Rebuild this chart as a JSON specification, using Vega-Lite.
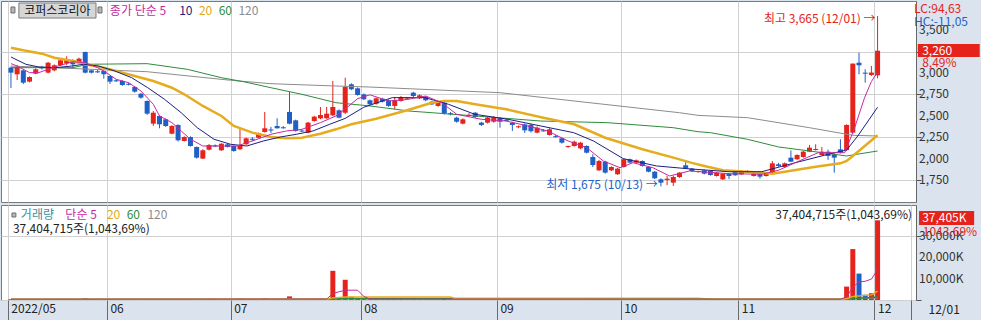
{
"$schema": "https://vega.github.io/schema/vega-lite/v6.json",
"background": "#dbe4ee",
"padding": 0,
"spacing": 1,
"config": {
 "view": {"stroke": "#7a7a7a", "fill": "#ffffff"},
 "font": "Noto Sans CJK KR",
 "axis": {"labelFont": "Noto Sans CJK KR", "titleFont": "Noto Sans CJK KR", "labelFontSize": 12, "labelColor": "#333333", "gridColor": "#d0d0d0", "tickColor": "#555555", "domainColor": "#666666"},
 "text": {"font": "Noto Sans CJK KR", "fontSize": 12}
},
"resolve": {"scale": {"x": "independent", "y": "independent"}},
"datasets": {
 "ohlc": [
{"i":0,"o":3062,"h":3075,"l":2825,"c":3004,"v":350,"u":0},
{"i":1,"o":2985,"h":3093,"l":2918,"c":3070,"v":420,"u":1},
{"i":2,"o":3031,"h":3040,"l":2872,"c":2887,"v":380,"u":0},
{"i":3,"o":2899,"h":2960,"l":2890,"c":2953,"v":250,"u":1},
{"i":4,"o":2992,"h":3055,"l":2985,"c":3043,"v":300,"u":1},
{"i":5,"o":3066,"h":3082,"l":3040,"c":3054,"v":200,"u":1},
{"i":6,"o":3004,"h":3130,"l":2995,"c":3120,"v":450,"u":1},
{"i":7,"o":3031,"h":3100,"l":3020,"c":3090,"v":260,"u":0},
{"i":8,"o":3090,"h":3160,"l":3080,"c":3148,"v":380,"u":1},
{"i":9,"o":3113,"h":3195,"l":3090,"c":3160,"v":420,"u":1},
{"i":10,"o":3148,"h":3160,"l":3060,"c":3101,"v":300,"u":0},
{"i":11,"o":3113,"h":3180,"l":3105,"c":3167,"v":350,"u":1},
{"i":12,"o":3245,"h":3250,"l":2995,"c":3004,"v":900,"u":0},
{"i":13,"o":3031,"h":3040,"l":2995,"c":3004,"v":400,"u":0},
{"i":14,"o":3020,"h":3035,"l":3000,"c":3008,"v":220,"u":1},
{"i":15,"o":3023,"h":3030,"l":2934,"c":2985,"v":300,"u":0},
{"i":16,"o":2965,"h":2970,"l":2872,"c":2899,"v":320,"u":0},
{"i":17,"o":2915,"h":2925,"l":2895,"c":2903,"v":180,"u":1},
{"i":18,"o":2907,"h":2915,"l":2850,"c":2860,"v":220,"u":0},
{"i":19,"o":2875,"h":2885,"l":2855,"c":2863,"v":160,"u":1},
{"i":20,"o":2837,"h":2845,"l":2770,"c":2782,"v":260,"u":0},
{"i":21,"o":2758,"h":2765,"l":2700,"c":2712,"v":240,"u":0},
{"i":22,"o":2673,"h":2680,"l":2510,"c":2525,"v":520,"u":0},
{"i":23,"o":2408,"h":2556,"l":2381,"c":2536,"v":480,"u":1},
{"i":24,"o":2498,"h":2505,"l":2354,"c":2401,"v":300,"u":0},
{"i":25,"o":2459,"h":2470,"l":2370,"c":2381,"v":260,"u":0},
{"i":26,"o":2291,"h":2390,"l":2285,"c":2381,"v":280,"u":0},
{"i":27,"o":2393,"h":2400,"l":2200,"c":2214,"v":420,"u":0},
{"i":28,"o":2206,"h":2260,"l":2200,"c":2252,"v":260,"u":1},
{"i":29,"o":2252,"h":2260,"l":2140,"c":2147,"v":300,"u":0},
{"i":30,"o":2136,"h":2140,"l":2000,"c":2011,"v":450,"u":0},
{"i":31,"o":2000,"h":2110,"l":1995,"c":2097,"v":380,"u":1},
{"i":32,"o":2104,"h":2170,"l":2095,"c":2159,"v":280,"u":1},
{"i":33,"o":2155,"h":2165,"l":2135,"c":2143,"v":150,"u":0},
{"i":34,"o":2097,"h":2180,"l":2090,"c":2174,"v":260,"u":1},
{"i":35,"o":2167,"h":2175,"l":2130,"c":2136,"v":180,"u":0},
{"i":36,"o":2147,"h":2155,"l":2080,"c":2089,"v":220,"u":0},
{"i":37,"o":2109,"h":2354,"l":2100,"c":2147,"v":700,"u":1},
{"i":38,"o":2167,"h":2245,"l":2160,"c":2237,"v":380,"u":1},
{"i":39,"o":2232,"h":2250,"l":2205,"c":2220,"v":200,"u":0},
{"i":40,"o":2244,"h":2305,"l":2240,"c":2296,"v":300,"u":1},
{"i":41,"o":2311,"h":2545,"l":2305,"c":2354,"v":900,"u":1},
{"i":42,"o":2340,"h":2370,"l":2300,"c":2328,"v":260,"u":0},
{"i":43,"o":2381,"h":2471,"l":2350,"c":2354,"v":350,"u":1},
{"i":44,"o":2366,"h":2380,"l":2350,"c":2354,"v":200,"u":1},
{"i":45,"o":2545,"h":2778,"l":2400,"c":2408,"v":1700,"u":1},
{"i":46,"o":2447,"h":2455,"l":2315,"c":2323,"v":500,"u":0},
{"i":47,"o":2328,"h":2340,"l":2310,"c":2316,"v":200,"u":0},
{"i":48,"o":2303,"h":2430,"l":2295,"c":2420,"v":420,"u":1},
{"i":49,"o":2439,"h":2500,"l":2430,"c":2490,"v":380,"u":1},
{"i":50,"o":2470,"h":2603,"l":2460,"c":2509,"v":650,"u":1},
{"i":51,"o":2471,"h":2603,"l":2465,"c":2525,"v":500,"u":1},
{"i":52,"o":2506,"h":2907,"l":2495,"c":2603,"v":13700,"u":1},
{"i":53,"o":2564,"h":2575,"l":2470,"c":2478,"v":900,"u":0},
{"i":54,"o":2536,"h":2945,"l":2520,"c":2837,"v":9500,"u":1},
{"i":55,"o":2868,"h":2880,"l":2800,"c":2810,"v":1500,"u":0},
{"i":56,"o":2821,"h":2830,"l":2735,"c":2743,"v":600,"u":0},
{"i":57,"o":2751,"h":2760,"l":2685,"c":2693,"v":450,"u":0},
{"i":58,"o":2681,"h":2690,"l":2625,"c":2634,"v":350,"u":0},
{"i":59,"o":2641,"h":2715,"l":2630,"c":2704,"v":300,"u":1},
{"i":60,"o":2700,"h":2710,"l":2655,"c":2665,"v":250,"u":0},
{"i":61,"o":2681,"h":2690,"l":2605,"c":2615,"v":300,"u":0},
{"i":62,"o":2615,"h":2720,"l":2576,"c":2681,"v":320,"u":1},
{"i":63,"o":2673,"h":2730,"l":2665,"c":2720,"v":280,"u":1},
{"i":64,"o":2700,"h":2720,"l":2690,"c":2712,"v":180,"u":0},
{"i":65,"o":2770,"h":2780,"l":2720,"c":2731,"v":260,"u":1},
{"i":66,"o":2704,"h":2750,"l":2695,"c":2739,"v":220,"u":1},
{"i":67,"o":2720,"h":2730,"l":2670,"c":2681,"v":200,"u":0},
{"i":68,"o":2665,"h":2675,"l":2625,"c":2634,"v":220,"u":0},
{"i":69,"o":2615,"h":2665,"l":2605,"c":2653,"v":200,"u":1},
{"i":70,"o":2653,"h":2665,"l":2515,"c":2525,"v":400,"u":0},
{"i":71,"o":2530,"h":2545,"l":2505,"c":2518,"v":180,"u":0},
{"i":72,"o":2478,"h":2490,"l":2420,"c":2431,"v":250,"u":0},
{"i":73,"o":2408,"h":2470,"l":2400,"c":2459,"v":220,"u":1},
{"i":74,"o":2500,"h":2530,"l":2490,"c":2512,"v":160,"u":1},
{"i":75,"o":2536,"h":2545,"l":2475,"c":2486,"v":200,"u":0},
{"i":76,"o":2420,"h":2430,"l":2380,"c":2393,"v":260,"u":0},
{"i":77,"o":2420,"h":2490,"l":2410,"c":2478,"v":220,"u":1},
{"i":78,"o":2431,"h":2495,"l":2420,"c":2486,"v":200,"u":1},
{"i":79,"o":2471,"h":2486,"l":2361,"c":2431,"v":230,"u":0},
{"i":80,"o":2452,"h":2465,"l":2435,"c":2440,"v":150,"u":1},
{"i":81,"o":2420,"h":2430,"l":2323,"c":2393,"v":200,"u":0},
{"i":82,"o":2366,"h":2385,"l":2355,"c":2378,"v":140,"u":0},
{"i":83,"o":2400,"h":2410,"l":2300,"c":2330,"v":250,"u":0},
{"i":84,"o":2395,"h":2405,"l":2305,"c":2320,"v":220,"u":0},
{"i":85,"o":2303,"h":2375,"l":2295,"c":2361,"v":200,"u":1},
{"i":86,"o":2330,"h":2345,"l":2315,"c":2318,"v":140,"u":0},
{"i":87,"o":2276,"h":2355,"l":2270,"c":2342,"v":200,"u":1},
{"i":88,"o":2262,"h":2275,"l":2245,"c":2250,"v":150,"u":0},
{"i":89,"o":2237,"h":2245,"l":2175,"c":2186,"v":220,"u":0},
{"i":90,"o":2136,"h":2150,"l":2125,"c":2148,"v":150,"u":0},
{"i":91,"o":2147,"h":2210,"l":2140,"c":2198,"v":200,"u":1},
{"i":92,"o":2120,"h":2195,"l":2110,"c":2186,"v":180,"u":0},
{"i":93,"o":2147,"h":2155,"l":2060,"c":2069,"v":240,"u":0},
{"i":94,"o":2019,"h":2050,"l":1902,"c":1925,"v":420,"u":0},
{"i":95,"o":1863,"h":1985,"l":1855,"c":1972,"v":380,"u":1},
{"i":96,"o":1964,"h":1975,"l":1825,"c":1836,"v":300,"u":0},
{"i":97,"o":1863,"h":1910,"l":1855,"c":1902,"v":220,"u":1},
{"i":98,"o":1817,"h":1890,"l":1810,"c":1883,"v":250,"u":0},
{"i":99,"o":1902,"h":2000,"l":1895,"c":1992,"v":350,"u":1},
{"i":100,"o":1992,"h":2000,"l":1945,"c":1953,"v":220,"u":0},
{"i":101,"o":1953,"h":1990,"l":1945,"c":1980,"v":180,"u":1},
{"i":102,"o":1972,"h":1980,"l":1905,"c":1914,"v":200,"u":0},
{"i":103,"o":1902,"h":1910,"l":1840,"c":1847,"v":250,"u":0},
{"i":104,"o":1847,"h":1855,"l":1760,"c":1770,"v":300,"u":0},
{"i":105,"o":1758,"h":1770,"l":1675,"c":1719,"v":380,"u":0},
{"i":106,"o":1750,"h":1797,"l":1690,"c":1765,"v":250,"u":1},
{"i":107,"o":1719,"h":1800,"l":1680,"c":1785,"v":280,"u":1},
{"i":108,"o":1785,"h":1840,"l":1775,"c":1836,"v":300,"u":1},
{"i":109,"o":1922,"h":1972,"l":1880,"c":1887,"v":420,"u":1},
{"i":110,"o":1883,"h":1890,"l":1845,"c":1855,"v":200,"u":0},
{"i":111,"o":1843,"h":1858,"l":1835,"c":1855,"v":150,"u":0},
{"i":112,"o":1863,"h":1870,"l":1815,"c":1824,"v":180,"u":0},
{"i":113,"o":1855,"h":1860,"l":1800,"c":1808,"v":200,"u":0},
{"i":114,"o":1797,"h":1845,"l":1790,"c":1836,"v":180,"u":1},
{"i":115,"o":1758,"h":1830,"l":1750,"c":1824,"v":220,"u":0},
{"i":116,"o":1824,"h":1830,"l":1760,"c":1797,"v":200,"u":0},
{"i":117,"o":1843,"h":1850,"l":1800,"c":1805,"v":180,"u":1},
{"i":118,"o":1816,"h":1860,"l":1810,"c":1855,"v":200,"u":1},
{"i":119,"o":1850,"h":1865,"l":1835,"c":1838,"v":150,"u":0},
{"i":120,"o":1797,"h":1830,"l":1790,"c":1824,"v":170,"u":0},
{"i":121,"o":1824,"h":1830,"l":1765,"c":1789,"v":200,"u":0},
{"i":122,"o":1797,"h":1830,"l":1790,"c":1824,"v":180,"u":1},
{"i":123,"o":1836,"h":1972,"l":1830,"c":1945,"v":500,"u":1},
{"i":124,"o":1933,"h":1950,"l":1905,"c":1914,"v":260,"u":0},
{"i":125,"o":1902,"h":1955,"l":1895,"c":1945,"v":300,"u":1},
{"i":126,"o":2011,"h":2095,"l":1960,"c":1964,"v":600,"u":1},
{"i":127,"o":1992,"h":2050,"l":1985,"c":2042,"v":400,"u":1},
{"i":128,"o":2019,"h":2090,"l":2010,"c":2081,"v":380,"u":1},
{"i":129,"o":2081,"h":2160,"l":2075,"c":2128,"v":450,"u":1},
{"i":130,"o":2100,"h":2167,"l":2095,"c":2112,"v":300,"u":0},
{"i":131,"o":2042,"h":2136,"l":2035,"c":2081,"v":260,"u":0},
{"i":132,"o":2081,"h":2105,"l":1985,"c":2031,"v":280,"u":0},
{"i":133,"o":2050,"h":2060,"l":1836,"c":2011,"v":350,"u":0},
{"i":134,"o":2108,"h":2226,"l":2060,"c":2069,"v":500,"u":1},
{"i":135,"o":2100,"h":2400,"l":2090,"c":2393,"v":6300,"u":1},
{"i":136,"o":2303,"h":3110,"l":2290,"c":3110,"v":23900,"u":1},
{"i":137,"o":3120,"h":3237,"l":2985,"c":3090,"v":12400,"u":0},
{"i":138,"o":3004,"h":3043,"l":2887,"c":2992,"v":2500,"u":0},
{"i":139,"o":2977,"h":3082,"l":2965,"c":3005,"v":3200,"u":1},
{"i":140,"o":2973,"h":3665,"l":2938,"c":3260,"v":37405,"u":1}
 ],
 "ma5": [{"i":0,"p":3109},{"i":1,"p":3082},{"i":3,"p":3004},{"i":4.5,"p":3004},{"i":7,"p":3070},{"i":10,"p":3132},{"i":12,"p":3120},{"i":14,"p":3062},{"i":15,"p":3023},{"i":17,"p":2926},{"i":19,"p":2887},{"i":21,"p":2790},{"i":23,"p":2634},{"i":24,"p":2498},{"i":26,"p":2420},{"i":27.5,"p":2323},{"i":29,"p":2226},{"i":31,"p":2147},{"i":34,"p":2147},{"i":36.5,"p":2147},{"i":39,"p":2206},{"i":42,"p":2284},{"i":44.5,"p":2323},{"i":47,"p":2342},{"i":50,"p":2420},{"i":52.5,"p":2498},{"i":54,"p":2580},{"i":56,"p":2700},{"i":58,"p":2745},{"i":61,"p":2673},{"i":64,"p":2690},{"i":67,"p":2731},{"i":69.6,"p":2653},{"i":72,"p":2518},{"i":76,"p":2459},{"i":80,"p":2439},{"i":83.5,"p":2381},{"i":86.7,"p":2323},{"i":90,"p":2206},{"i":93,"p":2128},{"i":95.7,"p":1972},{"i":98.4,"p":1894},{"i":100.5,"p":1952},{"i":103.7,"p":1894},{"i":106.4,"p":1797},{"i":109.6,"p":1855},{"i":116,"p":1824},{"i":121.3,"p":1817},{"i":124,"p":1864},{"i":126.7,"p":1952},{"i":130.4,"p":2069},{"i":134.7,"p":2069},{"i":136.3,"p":2361},{"i":137.9,"p":2712},{"i":139,"p":2900},{"i":140,"p":3010}],
 "ma10": [{"i":0,"p":3187},{"i":2.4,"p":3102},{"i":4.5,"p":3070},{"i":7.2,"p":3062},{"i":9.9,"p":3082},{"i":11.7,"p":3102},{"i":14.1,"p":3082},{"i":16.8,"p":3023},{"i":19.5,"p":2945},{"i":22.1,"p":2828},{"i":24.8,"p":2693},{"i":27.5,"p":2536},{"i":30.1,"p":2361},{"i":32.8,"p":2226},{"i":35.5,"p":2167},{"i":38.1,"p":2147},{"i":40.8,"p":2206},{"i":43.5,"p":2252},{"i":46.1,"p":2284},{"i":48.8,"p":2323},{"i":51.5,"p":2401},{"i":54,"p":2470},{"i":57,"p":2600},{"i":61.6,"p":2712},{"i":66.9,"p":2712},{"i":70.7,"p":2634},{"i":74.9,"p":2518},{"i":80.3,"p":2459},{"i":85.6,"p":2381},{"i":90.9,"p":2303},{"i":94.1,"p":2206},{"i":98.9,"p":2000},{"i":104.3,"p":1914},{"i":109.6,"p":1880},{"i":116,"p":1847},{"i":121.3,"p":1847},{"i":126.7,"p":1952},{"i":132,"p":2050},{"i":135,"p":2100},{"i":136.8,"p":2264},{"i":140,"p":2600}],
 "ma20": [{"i":0,"p":3296},{"i":2,"p":3265},{"i":5,"p":3226},{"i":7,"p":3179},{"i":10,"p":3140},{"i":12,"p":3102},{"i":15,"p":3062},{"i":18,"p":3004},{"i":20,"p":2965},{"i":23,"p":2907},{"i":26,"p":2828},{"i":28,"p":2751},{"i":31,"p":2615},{"i":34,"p":2498},{"i":36,"p":2381},{"i":39,"p":2303},{"i":42,"p":2252},{"i":44.5,"p":2237},{"i":47,"p":2244},{"i":50,"p":2291},{"i":52.5,"p":2342},{"i":55,"p":2401},{"i":59,"p":2465},{"i":64,"p":2564},{"i":68,"p":2653},{"i":70,"p":2673},{"i":72,"p":2673},{"i":75,"p":2634},{"i":80,"p":2576},{"i":86,"p":2478},{"i":91,"p":2401},{"i":96,"p":2244},{"i":102,"p":2109},{"i":107,"p":2011},{"i":110,"p":1950},{"i":112,"p":1914},{"i":115,"p":1864},{"i":119,"p":1847},{"i":123,"p":1824},{"i":127,"p":1870},{"i":130,"p":1905},{"i":134,"p":1945},{"i":135,"p":1972},{"i":136,"p":2031},{"i":140,"p":2272}],
 "ma60": [{"i":0,"p":3062},{"i":10,"p":3062},{"i":12.5,"p":3102},{"i":22,"p":3109},{"i":28.5,"p":3043},{"i":34,"p":2945},{"i":37.6,"p":2898},{"i":42,"p":2828},{"i":47,"p":2751},{"i":52.5,"p":2653},{"i":58,"p":2615},{"i":64.3,"p":2556},{"i":75,"p":2498},{"i":85.6,"p":2439},{"i":96.3,"p":2420},{"i":107,"p":2361},{"i":111,"p":2314},{"i":113,"p":2303},{"i":119,"p":2225},{"i":124,"p":2136},{"i":129,"p":2089},{"i":135,"p":2031},{"i":140,"p":2089}],
 "ma120": [{"i":0,"p":3080},{"i":4.5,"p":3070},{"i":22,"p":3015},{"i":35.5,"p":2915},{"i":42,"p":2875},{"i":52.5,"p":2848},{"i":58,"p":2836},{"i":79,"p":2770},{"i":91,"p":2673},{"i":108,"p":2536},{"i":111,"p":2505},{"i":119,"p":2478},{"i":129,"p":2361},{"i":136,"p":2272},{"i":140,"p":2264}],
 "vma5": [{"i":0,"v":350},{"i":51,"v":400},{"i":52,"v":3100},{"i":54,"v":4600},{"i":56,"v":4600},{"i":57,"v":1700},{"i":58,"v":400},{"i":134,"v":350},{"i":135,"v":1500},{"i":136,"v":6000},{"i":137,"v":8500},{"i":138,"v":8800},{"i":139,"v":9800},{"i":140,"v":14200}],
 "vma20": [{"i":0,"v":330},{"i":51,"v":330},{"i":52,"v":1000},{"i":54,"v":1400},{"i":71,"v":1400},{"i":72,"v":500},{"i":134,"v":300},{"i":135,"v":600},{"i":136,"v":1700},{"i":139,"v":2400},{"i":140,"v":4200}],
 "vma60": [{"i":0,"v":300},{"i":51,"v":300},{"i":54,"v":700},{"i":111,"v":700},{"i":114,"v":350},{"i":134,"v":300},{"i":135,"v":400},{"i":140,"v":1400}],
 "vma120": [{"i":0,"v":320},{"i":54,"v":500},{"i":134,"v":500},{"i":140,"v":900}],
 "pylab": [{"i":146.7,"p":1750,"t":"1,750"},{"i":146.7,"p":2000,"t":"2,000"},{"i":146.7,"p":2250,"t":"2,250"},{"i":146.7,"p":2500,"t":"2,500"},{"i":146.7,"p":2750,"t":"2,750"},{"i":146.7,"p":3000,"t":"3,000"},{"i":146.7,"p":3250,"t":"3,250"},{"i":146.7,"p":3500,"t":"3,500"}],
 "vylab": [{"i":146.7,"v":10000,"t":"10,000K"},{"i":146.7,"v":20000,"t":"20,000K"},{"i":146.7,"v":30000,"t":"30,000K"}],
 "ptxtL": [
  {"i":15.98,"p":3724,"t":"종가 단순 5","k":"5"},
  {"i":27.17,"p":3724,"t":"10","k":"10"},
  {"i":30.36,"p":3724,"t":"20","k":"20"},
  {"i":33.56,"p":3724,"t":"60","k":"60"},
  {"i":36.75,"p":3724,"t":"120","k":"120"},
  {"i":145.9,"p":3748,"t":"LC:94,63","k":"up"},
  {"i":145.9,"p":3596,"t":"HC:-11,05","k":"dn"},
  {"i":147.2,"p":3257,"t":"3,260","k":"box"},
  {"i":147.2,"p":3117,"t":"8,49%","k":"up"}
 ],
 "ptxtR": [
  {"i":139.66,"p":3631,"t":"최고 3,665 (12/01) →","k":"up"},
  {"i":104.5,"p":1692,"t":"최저 1,675 (10/13) →","k":"dn"}
 ],
 "vtxtL": [
  {"i":1.6,"v":39905,"t":"거래량","k":"vol"},
  {"i":8.79,"v":39905,"t":"단순 5","k":"5"},
  {"i":15.5,"v":39905,"t":"20","k":"20"},
  {"i":18.7,"v":39905,"t":"60","k":"60"},
  {"i":22.05,"v":39905,"t":"120","k":"120"},
  {"i":0.32,"v":33332,"t":"37,404,715주(1,043,69%)","k":"txt"},
  {"i":147.2,"v":38497,"t":"37,405K","k":"box"},
  {"i":147.3,"v":31924,"t":"1043,69%","k":"up"}
 ]
},
"vconcat": [
 {
  "width": 915, "height": 201,
  "layer": [
   {"data": {"name": "ohlc"}, "mark": {"type": "rule", "strokeWidth": 1},
    "encoding": {
     "x": {"field": "i", "type": "quantitative", "scale": {"domain": [-0.8, 145.4], "nice": false, "zero": false},
       "axis": {"orient": "bottom", "values": [-0.5, 15.5, 35.5, 56.5, 78.5, 98.5, 117.5, 139.5], "labels": false, "ticks": false, "domain": false, "grid": true, "title": null}},
     "y": {"field": "l", "type": "quantitative", "scale": {"domain": [1493, 3841], "nice": false, "zero": false},
       "axis": {"orient": "right", "values": [1750, 2000, 2250, 2500, 2750, 3000, 3250, 3500], "labels": false, "grid": true, "tickSize": 5, "title": null}},
     "y2": {"field": "h"},
     "color": {"condition": {"test": "datum.c >= datum.o", "value": "#e5231b"}, "value": "#1f5fc8"}
    }},
   {"data": {"name": "ohlc"}, "mark": {"type": "bar", "width": 5},
    "encoding": {
     "x": {"field": "i", "type": "quantitative"},
     "y": {"field": "o", "type": "quantitative"},
     "y2": {"field": "c"},
     "color": {"condition": {"test": "datum.c >= datum.o", "value": "#e5231b"}, "value": "#1f5fc8"}
    }},
   {"data": {"name": "ma120"}, "mark": {"type": "line", "color": "#8c8c8c", "strokeWidth": 1},
    "encoding": {"x": {"field": "i", "type": "quantitative"}, "y": {"field": "p", "type": "quantitative"}}},
   {"data": {"name": "ma60"}, "mark": {"type": "line", "color": "#2f8c3c", "strokeWidth": 1},
    "encoding": {"x": {"field": "i", "type": "quantitative"}, "y": {"field": "p", "type": "quantitative"}}},
   {"data": {"name": "ma20"}, "mark": {"type": "line", "color": "#e6ac1e", "strokeWidth": 2.5},
    "encoding": {"x": {"field": "i", "type": "quantitative"}, "y": {"field": "p", "type": "quantitative"}}},
   {"data": {"name": "ma10"}, "mark": {"type": "line", "color": "#1a2080", "strokeWidth": 1},
    "encoding": {"x": {"field": "i", "type": "quantitative"}, "y": {"field": "p", "type": "quantitative"}}},
   {"data": {"name": "ma5"}, "mark": {"type": "line", "color": "#c8289f", "strokeWidth": 1},
    "encoding": {"x": {"field": "i", "type": "quantitative"}, "y": {"field": "p", "type": "quantitative"}}},
   {"data": {"name": "pylab"}, "mark": {"type": "text", "align": "left", "baseline": "middle", "fontSize": 12, "color": "#333333"},
    "encoding": {"x": {"field": "i", "type": "quantitative"}, "y": {"field": "p", "type": "quantitative"}, "text": {"field": "t"}}},
   {"data": {"values": [{"x1": 1.28, "x2": 13.74, "y1": 3818, "y2": 3642}]}, "mark": {"type": "rect", "fill": "#d6d6d6", "stroke": "#7a7a7a", "strokeWidth": 1},
    "encoding": {"x": {"field": "x1", "type": "quantitative"}, "x2": {"field": "x2"}, "y": {"field": "y1", "type": "quantitative"}, "y2": {"field": "y2"}}},
   {"data": {"values": [{"x1": 0, "x2": 0.64, "y1": 3771, "y2": 3701}, {"x1": 14.06, "x2": 14.7, "y1": 3771, "y2": 3701}]}, "mark": {"type": "rect", "fill": "#b8b8b8", "stroke": "#6e6e6e", "strokeWidth": 1},
    "encoding": {"x": {"field": "x1", "type": "quantitative"}, "x2": {"field": "x2"}, "y": {"field": "y1", "type": "quantitative"}, "y2": {"field": "y2"}}},
   {"data": {"values": [{"x1": 146.5, "x2": 156.5, "y1": 3339, "y2": 3187}]}, "mark": {"type": "rect", "fill": "#e5231b"},
    "encoding": {"x": {"field": "x1", "type": "quantitative"}, "x2": {"field": "x2"}, "y": {"field": "y1", "type": "quantitative"}, "y2": {"field": "y2"}}},
   {"data": {"values": [{"i": 7.5, "p": 3728, "t": "코퍼스코리아"}]}, "mark": {"type": "text", "align": "center", "baseline": "middle", "color": "#111111", "fontSize": 12},
    "encoding": {"x": {"field": "i", "type": "quantitative"}, "y": {"field": "p", "type": "quantitative"}, "text": {"field": "t"}}},
   {"data": {"name": "ptxtL"}, "mark": {"type": "text", "align": "left", "baseline": "middle", "fontSize": 12},
    "encoding": {"x": {"field": "i", "type": "quantitative"}, "y": {"field": "p", "type": "quantitative"}, "text": {"field": "t"},
     "color": {"field": "k", "type": "nominal", "legend": null, "scale": {"domain": ["5", "10", "20", "60", "120", "up", "dn", "box", "vol", "txt"], "range": ["#c8289f", "#1a2080", "#e0a818", "#2f8c3c", "#8c8c8c", "#e5231b", "#1f5fc8", "#ffffff", "#3b8fa3", "#222222"]}}}},
   {"data": {"name": "ptxtR"}, "mark": {"type": "text", "align": "right", "baseline": "middle", "fontSize": 12},
    "encoding": {"x": {"field": "i", "type": "quantitative"}, "y": {"field": "p", "type": "quantitative"}, "text": {"field": "t"},
     "color": {"field": "k", "type": "nominal", "legend": null}}}
  ]
 },
 {
  "width": 915, "height": 95,
  "layer": [
   {"data": {"name": "ohlc"}, "mark": {"type": "bar", "width": 5},
    "encoding": {
     "x": {"field": "i", "type": "quantitative", "scale": {"domain": [-0.8, 145.4], "nice": false, "zero": false},
       "axis": {"orient": "bottom", "values": [-0.5, 15.5, 35.5, 56.5, 78.5, 98.5, 117.5, 139.5, 145.4],
        "labelExpr": "datum.value < 0 ? '2022/05' : datum.value < 16 ? '06' : datum.value < 36 ? '07' : datum.value < 57 ? '08' : datum.value < 79 ? '09' : datum.value < 99 ? '10' : datum.value < 118 ? '11' : datum.value < 140 ? '12' : ''",
        "labelAlign": "left", "labelBaseline": "top", "labelPadding": -20, "labelOffset": 3, "labelOverlap": false, "labelFlush": false, "labelBound": false,
        "labelColor": "#222222", "tickSize": 23, "tickColor": "#6a6a6a", "domain": false, "grid": true,
        "title": "12/01", "titleX": 927, "titleY": 4, "titleAlign": "left", "titleBaseline": "top", "titleFontWeight": "normal", "titleFontSize": 12, "titleColor": "#222222"}},
     "y": {"field": "v", "type": "quantitative", "scale": {"domain": [0, 44600], "nice": false, "zero": false},
       "axis": {"orient": "right", "values": [0, 10000, 20000, 30000], "labels": false, "grid": true, "tickSize": 5, "title": null}},
     "color": {"condition": {"test": "datum.u == 1", "value": "#e5231b"}, "value": "#1f5fc8"}
    }},
   {"data": {"name": "vma120"}, "mark": {"type": "line", "color": "#8c8c8c", "strokeWidth": 1},
    "encoding": {"x": {"field": "i", "type": "quantitative"}, "y": {"field": "v", "type": "quantitative"}}},
   {"data": {"name": "vma60"}, "mark": {"type": "line", "color": "#2f8c3c", "strokeWidth": 1.5},
    "encoding": {"x": {"field": "i", "type": "quantitative"}, "y": {"field": "v", "type": "quantitative"}}},
   {"data": {"name": "vma20"}, "mark": {"type": "line", "color": "#e6ac1e", "strokeWidth": 1.5},
    "encoding": {"x": {"field": "i", "type": "quantitative"}, "y": {"field": "v", "type": "quantitative"}}},
   {"data": {"name": "vma5"}, "mark": {"type": "line", "color": "#c8289f", "strokeWidth": 1},
    "encoding": {"x": {"field": "i", "type": "quantitative"}, "y": {"field": "v", "type": "quantitative"}}},
   {"data": {"name": "vylab"}, "mark": {"type": "text", "align": "left", "baseline": "middle", "fontSize": 12, "color": "#333333"},
    "encoding": {"x": {"field": "i", "type": "quantitative"}, "y": {"field": "v", "type": "quantitative"}, "text": {"field": "t"}}},
   {"data": {"values": [{"x1": 0.16, "x2": 0.8, "y1": 40844, "y2": 38966}]}, "mark": {"type": "rect", "fill": "#b8b8b8", "stroke": "#6e6e6e", "strokeWidth": 1},
    "encoding": {"x": {"field": "x1", "type": "quantitative"}, "x2": {"field": "x2"}, "y": {"field": "y1", "type": "quantitative"}, "y2": {"field": "y2"}}},
   {"data": {"values": [{"x1": 146.7, "x2": 155.6, "y1": 41783, "y2": 35210}]}, "mark": {"type": "rect", "fill": "#e5231b"},
    "encoding": {"x": {"field": "x1", "type": "quantitative"}, "x2": {"field": "x2"}, "y": {"field": "y1", "type": "quantitative"}, "y2": {"field": "y2"}}},
   {"data": {"name": "vtxtL"}, "mark": {"type": "text", "align": "left", "baseline": "middle", "fontSize": 12},
    "encoding": {"x": {"field": "i", "type": "quantitative"}, "y": {"field": "v", "type": "quantitative"}, "text": {"field": "t"},
     "color": {"field": "k", "type": "nominal", "legend": null, "scale": {"domain": ["5", "10", "20", "60", "120", "up", "dn", "box", "vol", "txt"], "range": ["#c8289f", "#1a2080", "#e0a818", "#2f8c3c", "#8c8c8c", "#e5231b", "#1f5fc8", "#ffffff", "#3b8fa3", "#222222"]}}}},
   {"data": {"values": [{"i": 145.57, "v": 39905, "t": "37,404,715주(1,043,69%)"}]}, "mark": {"type": "text", "align": "right", "baseline": "middle", "fontSize": 12, "color": "#222222"},
    "encoding": {"x": {"field": "i", "type": "quantitative"}, "y": {"field": "v", "type": "quantitative"}, "text": {"field": "t"}}}
  ]
 }
]
}
